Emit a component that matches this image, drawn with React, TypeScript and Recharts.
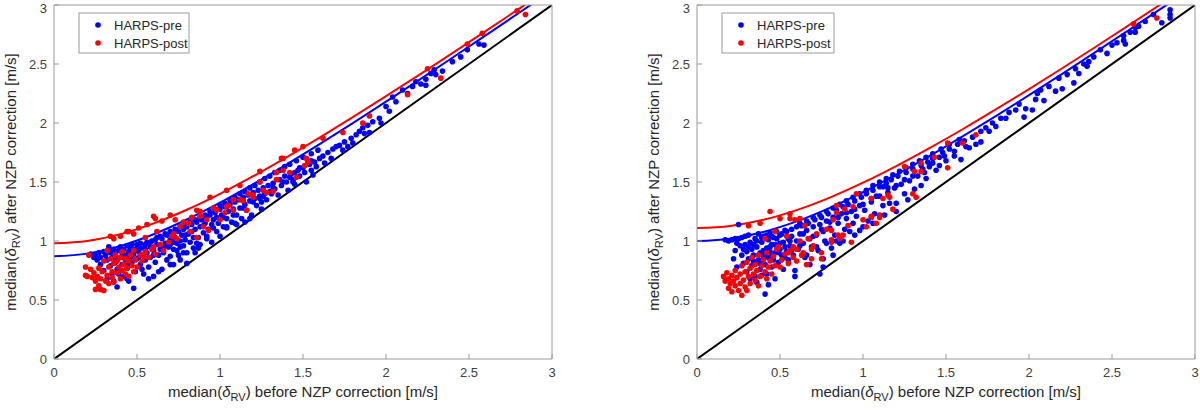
import { ComposedChart, Scatter, Line, XAxis, YAxis } from 'recharts'

type Pt = [number, number]

// tick values shared by both panels
const ticks = [0, 0.5, 1, 1.5, 2, 2.5, 3]

const curveX = [0, 0.2, 0.4, 0.6, 0.8, 1.0, 1.2, 1.4, 1.6, 1.8, 2.0, 2.2, 2.4, 2.6, 2.8, 2.9]
const leftPreCurve = [0.87, 0.893, 0.958, 1.057, 1.182, 1.325, 1.482, 1.648, 1.821, 1.999, 2.181, 2.366, 2.553, 2.742, 2.932, 3.028]
const leftPostCurve = [0.98, 1.0, 1.058, 1.149, 1.265, 1.4, 1.549, 1.709, 1.876, 2.049, 2.227, 2.408, 2.592, 2.779, 2.967, 3.061]
const rightPreCurve = [1.0, 1.02, 1.077, 1.166, 1.281, 1.414, 1.562, 1.72, 1.887, 2.059, 2.236, 2.417, 2.6, 2.786, 2.973, 3.068]
const rightPostCurve = [1.11, 1.128, 1.18, 1.262, 1.368, 1.494, 1.635, 1.787, 1.947, 2.115, 2.287, 2.464, 2.644, 2.827, 3.012, 3.105]
const diagonal: Pt[] = [[0, 0], [3, 3]]

const leftPre: Pt[] = [
  [0.22,0.89],[0.25,0.88],[0.27,0.90],[0.28,0.86],[0.30,0.91],[0.31,0.88],[0.32,0.84],[0.33,0.92],[0.34,0.79],[0.34,0.90],
  [0.35,0.86],[0.35,0.72],[0.30,0.75],[0.32,0.68],[0.28,0.80],[0.26,0.84],[0.24,0.86],[0.33,0.95],
  [0.36,0.93],[0.37,0.89],[0.37,0.82],[0.38,0.61],[0.38,0.76],[0.39,0.92],[0.40,0.86],[0.40,0.95],[0.41,0.80],[0.41,0.90],
  [0.42,0.70],[0.42,0.93],[0.43,0.88],[0.43,0.84],[0.44,0.96],[0.44,0.77],[0.45,0.91],[0.45,0.66],[0.46,0.86],[0.46,0.94],
  [0.47,0.82],[0.47,0.97],[0.48,0.60],[0.48,0.89],[0.49,0.74],[0.49,0.93],[0.50,0.85],[0.50,0.97],[0.39,0.72],[0.44,0.68],[0.36,0.66],
  [0.51,0.91],[0.52,0.80],[0.52,0.98],[0.53,0.88],[0.54,0.94],[0.54,0.72],[0.55,0.84],[0.56,0.99],[0.56,0.90],[0.57,0.78],
  [0.58,0.95],[0.58,0.86],[0.59,1.00],[0.60,0.92],[0.60,0.70],[0.61,0.82],[0.62,0.97],[0.62,1.03],[0.63,0.88],[0.64,0.93],
  [0.65,1.02],[0.65,0.76],[0.66,0.90],[0.67,0.98],[0.68,1.05],[0.68,0.84],[0.69,0.95],[0.70,1.01],[0.70,0.80],[0.53,0.76],[0.57,0.68],[0.63,0.74],
  [0.71,1.06],[0.72,0.93],[0.72,0.80],[0.73,1.03],[0.74,0.98],[0.75,1.08],[0.75,0.88],[0.76,0.84],[0.77,1.05],[0.78,1.10],
  [0.78,0.96],[0.79,1.01],[0.80,1.12],[0.80,0.90],[0.81,1.06],[0.82,0.99],[0.83,1.14],[0.83,1.08],[0.84,0.94],[0.85,0.90],
  [0.85,1.10],[0.86,1.16],[0.87,1.03],[0.88,1.12],[0.88,0.97],[0.89,1.18],[0.90,1.07],[0.76,1.00],[0.74,0.92],
  [0.91,1.15],[0.92,1.20],[0.92,1.02],[0.93,1.10],[0.94,1.22],[0.95,1.14],[0.95,0.99],[0.96,1.18],[0.97,1.24],[0.98,1.08],
  [0.98,1.20],[0.99,1.15],[1.00,1.27],[1.00,1.04],[1.01,1.22],[1.02,1.12],[1.03,1.29],[1.04,1.11],[1.04,1.19],[1.05,1.25],
  [1.06,1.31],[1.07,1.16],[1.08,1.27],[1.09,1.33],[1.10,1.22],[1.10,1.14],
  [1.11,1.35],[1.12,1.28],[1.13,1.19],[1.14,1.37],[1.15,1.31],[1.16,1.26],[1.17,1.39],[1.18,1.34],[1.19,1.22],[1.20,1.41],
  [1.21,1.36],[1.22,1.30],[1.23,1.43],[1.24,1.38],[1.25,1.27],[1.26,1.45],[1.27,1.40],[1.28,1.35],[1.29,1.47],[1.30,1.42],[1.15,1.16],[1.25,1.33],
  [1.32,1.49],[1.33,1.44],[1.35,1.39],[1.36,1.52],[1.37,1.47],[1.39,1.55],[1.40,1.50],[1.41,1.43],[1.43,1.57],[1.44,1.52],
  [1.45,1.48],[1.47,1.60],[1.48,1.55],[1.50,1.62],[1.51,1.58],[1.52,1.50],[1.54,1.65],[1.55,1.60],[1.57,1.67],[1.58,1.63],
  [1.60,1.70],[1.45,1.58],[1.53,1.66],
  [0.70,0.97],[0.76,0.95],[0.78,0.90],[0.86,0.98],[0.87,0.94],[0.70,0.87],[0.80,0.81],[0.92,1.04],[1.04,1.12],[1.09,1.15],
  [1.18,1.19],[1.24,1.36],[1.31,1.40],[1.44,1.50],[1.56,1.56],
  [0.52,0.94],[0.55,0.97],[0.58,0.99],[0.61,1.01],[0.64,1.04],[0.67,1.06],[0.70,1.08],[0.73,1.10],[0.76,1.12],[0.79,1.14],
  [0.82,1.16],[0.85,1.18],[0.88,1.20],[0.91,1.22],[0.94,1.25],[0.97,1.27],[1.00,1.30],[1.03,1.32],[1.06,1.35],[1.09,1.37],
  [1.12,1.40],[1.15,1.42],[1.18,1.45],[1.21,1.47],[1.24,1.50],[1.27,1.53],[1.30,1.55],[1.33,1.58],[1.36,1.60],[1.39,1.63],
  [1.42,1.65],[1.46,1.68],[1.50,1.71],[1.55,1.74],[1.59,1.77],
  [0.60,0.88],[0.66,0.94],[0.72,0.99],[0.79,1.05],[0.84,1.03],[0.90,1.13],[0.96,1.11],[1.02,1.20],[1.08,1.22],[1.14,1.28],
  [1.20,1.33],[1.26,1.38],[1.32,1.45],[1.38,1.50],[1.42,1.54],[1.48,1.62],[1.55,1.68],[0.47,0.88],[0.42,0.86],[0.38,0.84],
  [0.45,0.80],[0.51,0.86],[0.55,0.93],
  [1.62,1.72],[1.63,1.66],[1.65,1.75],[1.67,1.70],[1.68,1.78],[1.70,1.80],[1.72,1.81],[1.74,1.77],[1.75,1.84],[1.77,1.80],
  [1.79,1.87],[1.80,1.83],[1.82,1.90],[1.84,1.93],[1.86,1.96],[1.87,1.91],[1.89,1.98],[1.90,1.92],[1.92,2.01],[1.96,2.04],[1.97,2.00],
  [2.00,2.14],[2.02,2.10],[2.04,2.22],[2.06,2.18],[2.10,2.28],[2.13,2.25],[2.16,2.31],[2.18,2.35],[2.21,2.33],[2.24,2.37],
  [2.24,2.32],[2.27,2.42],[2.29,2.45],[2.30,2.41],[2.34,2.44],[2.40,2.52],[2.45,2.56],[2.49,2.62],[2.56,2.67],[2.59,2.66],
]

const leftPost: Pt[] = [
  [0.19,0.71],[0.19,0.78],[0.20,0.70],[0.21,0.88],[0.22,0.76],[0.23,0.69],[0.24,0.73],[0.25,0.59],[0.25,0.66],[0.26,0.70],
  [0.27,0.62],[0.27,0.77],[0.28,0.59],[0.28,0.68],[0.29,0.74],[0.30,0.58],[0.30,0.83],[0.31,0.66],[0.32,0.71],[0.32,0.92],
  [0.33,0.64],[0.33,0.78],[0.34,0.85],[0.35,0.69],[0.35,0.74],[0.36,0.81],[0.36,0.65],[0.37,0.88],[0.38,0.73],[0.38,0.83],
  [0.39,0.78],[0.40,0.68],[0.40,0.86],[0.41,0.75],[0.41,0.91],[0.42,0.80],[0.43,0.72],[0.43,0.85],[0.44,0.77],[0.45,0.83],
  [0.45,0.70],[0.46,0.88],[0.47,0.79],[0.48,0.74],[0.48,0.92],[0.49,0.84],[0.50,0.78],[0.52,0.88],[0.53,0.83],[0.55,0.91],
  [0.57,0.86],[0.59,0.93],[0.61,0.89],[0.64,0.97],[0.66,0.92],[0.69,0.99],
  [0.34,1.04],[0.36,1.02],[0.40,1.04],[0.45,1.08],[0.48,1.06],[0.51,1.11],[0.56,1.14],[0.61,1.19],[0.65,1.17],[0.70,1.22],
  [0.73,1.18],[0.78,1.16],[0.62,1.08],[0.55,1.03],[0.71,1.04],[0.74,1.02],
  [0.82,1.08],[0.86,1.03],[0.90,1.12],[0.93,1.09],[0.96,1.28],[1.00,1.18],[1.03,1.24],[1.05,1.30],[1.08,1.26],[1.12,1.47],
  [1.14,1.34],[1.17,1.40],[1.20,1.37],[1.24,1.50],[1.28,1.41],[1.32,1.42],[1.34,1.58],[1.37,1.70],[1.42,1.58],[1.45,1.77],
  [1.50,1.80],[1.51,1.64],[1.53,1.67],[0.83,1.20],[0.88,1.25],
  [0.44,1.08],[0.60,1.21],[0.86,1.26],[0.94,1.37],[1.04,1.43],[1.24,1.59],[1.38,1.70],
  [0.88,1.21],[0.92,1.18],[0.98,1.26],[1.04,1.29],[1.08,1.35],[1.12,1.35],[1.16,1.26],[1.20,1.39],[1.26,1.43],[1.34,1.52],
  [1.38,1.60],[1.46,1.54],[1.52,1.70],[0.72,1.06],[0.76,1.12],[0.81,1.15],[0.60,0.95],[0.54,0.87],
  [1.62,1.87],[1.74,1.92],[1.86,2.00],[1.90,2.06],[2.13,2.24],[2.25,2.46],[2.33,2.38],[2.49,2.67],[2.58,2.76],[2.79,2.95],[2.84,2.92],
]

const rightPre: Pt[] = [
  [0.17,1.01],[0.19,1.00],[0.21,1.01],[0.23,1.02],[0.25,1.02],[0.27,1.03],[0.29,1.04],[0.31,1.05],[0.25,1.14],
  [0.22,0.85],[0.23,0.92],[0.24,0.78],[0.26,0.96],[0.27,0.88],[0.28,0.81],[0.29,0.97],[0.30,0.91],[0.30,0.74],[0.31,0.85],
  [0.32,0.99],[0.33,0.93],[0.33,0.79],[0.34,0.88],[0.35,1.02],[0.35,0.70],[0.36,0.95],[0.37,0.84],[0.37,1.06],[0.38,0.90],
  [0.38,0.76],[0.39,0.99],[0.40,0.87],[0.40,1.04],[0.41,0.55],[0.41,0.80],[0.42,0.94],[0.42,0.72],[0.43,1.01],[0.43,0.86],
  [0.44,0.91],[0.44,1.07],[0.45,0.78],[0.45,0.97],[0.46,0.84],[0.46,1.03],[0.47,0.90],[0.47,0.68],[0.48,0.96],[0.48,1.08],
  [0.49,0.82],[0.50,0.93],[0.50,1.05],[0.51,0.88],[0.52,0.99],[0.52,0.76],[0.53,1.09],[0.54,0.91],[0.55,0.84],[0.55,1.02],
  [0.56,0.96],[0.57,1.10],[0.58,0.88],[0.59,0.75],[0.59,0.70],[0.60,1.00],[0.60,1.12],[0.36,0.65],[0.39,0.71],[0.43,0.63],[0.32,0.68],
  [0.24,0.98],[0.28,0.93],[0.31,0.95],[0.34,0.97],[0.36,1.00],[0.39,1.03],[0.42,1.05],[0.45,1.04],[0.48,1.02],[0.51,1.06],
  [0.54,1.08],[0.57,1.04],[0.40,0.92],[0.44,0.95],[0.47,0.97],[0.50,0.98],[0.53,0.95],[0.56,1.00],[0.34,0.83],[0.38,0.81],
  [0.41,0.88],[0.45,0.87],[0.49,0.90],[0.53,0.86],[0.57,0.92],[0.62,0.96],
  [0.61,0.93],[0.62,1.06],[0.63,1.13],[0.64,0.98],[0.65,0.86],[0.66,1.09],[0.67,1.15],[0.68,0.80],[0.68,1.02],[0.69,0.95],
  [0.70,1.12],[0.71,1.18],[0.72,1.05],[0.73,0.92],[0.74,1.14],[0.75,1.20],[0.76,0.85],[0.76,1.08],[0.77,1.00],[0.78,1.17],
  [0.79,1.23],[0.80,1.11],[0.81,0.94],[0.82,1.20],[0.83,1.05],[0.84,1.26],[0.85,1.15],[0.86,0.98],[0.87,1.23],[0.88,1.29],
  [0.89,1.10],[0.90,1.19],[0.91,1.31],[0.92,1.08],[0.93,1.25],[0.94,1.15],[0.95,1.34],[0.96,1.21],[0.98,1.09],[0.98,1.30],[0.99,1.37],
  [0.62,1.15],[0.66,1.17],[0.70,1.20],[0.74,1.22],[0.78,1.25],[0.82,1.28],[0.86,1.31],[0.90,1.34],[0.94,1.37],[0.98,1.40],
  [1.02,1.43],[1.06,1.47],[1.10,1.50],[1.14,1.53],[1.18,1.56],[1.22,1.59],[1.26,1.62],[1.30,1.65],[1.34,1.68],[1.38,1.71],
  [1.42,1.74],[1.47,1.78],[1.52,1.82],[1.58,1.86],
  [0.64,1.06],[0.70,1.04],[0.75,1.10],[0.80,1.16],[0.85,1.20],[0.90,1.24],[0.95,1.27],[1.00,1.31],[1.05,1.36],[1.10,1.38],
  [1.15,1.45],[1.20,1.47],[1.25,1.52],[1.30,1.55],[1.36,1.61],[1.42,1.66],[1.49,1.72],[1.55,1.72],[1.62,1.80],
  [0.66,0.88],[0.72,0.95],[0.78,0.98],[0.84,1.00],[0.88,1.00],[0.95,1.05],[1.00,1.12],[1.06,1.15],[1.13,1.22],[1.20,1.25],
  [1.27,1.35],[0.82,0.88],[0.76,0.78],[0.74,0.72],
  [1.01,1.26],[1.02,1.40],[1.03,1.17],[1.05,1.33],[1.06,1.43],[1.07,1.23],[1.08,1.38],[1.10,1.46],[1.12,1.46],[1.12,1.30],
  [1.14,1.49],[1.15,1.41],[1.16,1.32],[1.17,1.52],[1.19,1.45],[1.20,1.32],[1.21,1.55],[1.23,1.48],[1.25,1.40],[1.26,1.58],
  [1.28,1.51],[1.30,1.61],[1.31,1.44],[1.33,1.55],[1.35,1.47],[1.35,1.64],[1.37,1.58],[1.38,1.53],[1.39,1.67],
  [1.40,1.63],[1.42,1.70],[1.44,1.60],[1.46,1.71],[1.46,1.64],[1.48,1.75],[1.50,1.68],[1.52,1.78],[1.55,1.76],[1.57,1.82],
  [1.59,1.69],[1.61,1.85],[1.64,1.79],[1.66,1.88],[1.68,1.82],[1.71,1.84],[1.71,1.93],[1.74,1.96],[1.76,1.93],[1.78,2.00],
  [1.80,1.97],[1.83,2.04],[1.86,2.04],[1.88,2.09],[1.92,2.11],[1.94,2.16],[1.97,2.05],[1.98,2.12],
  [2.02,2.11],[2.04,2.20],[2.05,2.25],[2.07,2.28],[2.09,2.19],[2.12,2.31],[2.16,2.27],[2.18,2.38],[2.20,2.29],[2.23,2.41],
  [2.27,2.34],[2.28,2.46],[2.30,2.42],[2.33,2.50],[2.35,2.48],[2.36,2.52],[2.39,2.56],[2.43,2.62],[2.47,2.59],[2.50,2.66],
  [2.53,2.68],[2.57,2.74],[2.57,2.70],[2.58,2.67],[2.61,2.77],[2.64,2.81],[2.64,2.77],[2.66,2.82],[2.70,2.86],[2.75,2.92],
  [2.80,2.85],[2.85,2.96],[2.85,2.92],[2.85,2.89],
]

const rightPost: Pt[] = [
  [0.16,0.70],[0.17,0.66],[0.18,0.73],[0.19,0.60],[0.19,0.68],[0.20,0.64],[0.21,0.71],[0.21,0.57],[0.22,0.66],[0.23,0.75],
  [0.23,0.62],[0.24,0.69],[0.25,0.58],[0.26,0.72],[0.26,0.64],[0.27,0.54],[0.27,0.79],[0.28,0.67],[0.29,0.61],[0.29,0.74],
  [0.30,0.58],[0.30,0.82],[0.31,0.70],[0.32,0.64],[0.32,0.77],[0.33,0.86],[0.34,0.72],[0.35,0.67],[0.35,0.80],[0.36,0.75],
  [0.37,0.62],[0.37,0.88],[0.38,0.70],[0.39,0.79],[0.40,0.84],[0.41,0.74],[0.42,0.68],[0.42,0.90],[0.43,0.78],[0.44,0.83],
  [0.45,0.72],[0.46,0.87],[0.47,0.79],[0.48,0.93],[0.49,0.95],[0.50,0.78],[0.51,0.84],[0.53,0.89],[0.55,0.81],[0.56,0.92],[0.58,0.86],
  [0.60,0.83],[0.63,0.88],[0.66,0.80],[0.69,0.93],
  [0.31,1.13],[0.38,1.15],[0.44,1.25],[0.41,1.02],[0.47,1.08],[0.56,1.23],[0.59,1.18],[0.62,1.00],[0.65,1.13],[0.67,1.02],
  [0.70,0.96],[0.72,1.06],[0.75,0.90],[0.78,1.10],[0.81,0.99],[0.82,1.18],[0.84,1.30],[0.86,1.02],[0.88,1.05],[0.91,1.13],
  [0.93,0.99],[0.96,1.40],[1.00,1.18],[1.02,1.12],[1.05,1.21],[1.05,1.36],[1.08,1.15],[1.10,1.22],[1.12,1.36],[1.15,1.39],
  [1.18,1.27],[1.25,1.63],[1.30,1.40],[1.32,1.37],[1.35,1.59],[1.35,1.66],[1.43,1.71],[1.51,1.83],[1.51,1.62],[1.60,1.83],
  [0.64,0.90],[0.69,0.85],[0.75,0.85],[0.81,1.01],[0.81,1.09],[0.85,1.05],[0.84,1.24],[0.89,1.27],[0.94,1.29],[1.05,1.20],
  [1.10,1.20],[1.16,1.37],[1.31,1.59],[0.54,1.04],[0.50,1.19],[0.56,1.19],[0.62,1.19],[0.55,0.90],[0.58,0.95],[0.60,0.93],
  [1.68,1.90],[2.63,2.84],[2.77,2.89],
]

const BLUE = '#0000ff'
const RED = '#ff0000'
const AXIS = '#9a9a9a'
const TEXT = '#262626'
const FONT = '"Liberation Sans", Arial, sans-serif'

const toXY = (pts: Pt[]) => pts.map(([x, y]) => ({ x, y }))
const curve = (ys: number[]) => curveX.map((x, i) => ({ x, y: ys[i] }))

const dot = (color: string) => (p: any) => <circle cx={p.cx} cy={p.cy} r={2.8} fill={color} />

const PLOT_W = 498
const PLOT_H = 354
const PLOT_TOP = 5

function AxisText({ label }: { label: string }) {
  return (
    <>
      median(<tspan fontStyle="italic">δ</tspan>
      <tspan fontSize={11} dy={4}>RV</tspan>
      <tspan dy={-4}>) {label} NZP correction [m/s]</tspan>
    </>
  )
}

interface PanelProps {
  pre: Pt[]
  post: Pt[]
  preCurve: number[]
  postCurve: number[]
  plotLeft: number
  legendLeft: number
  legendWidth: number
}

function Panel({ pre, post, preCurve, postCurve, plotLeft, legendLeft, legendWidth }: PanelProps) {
  const tickStyle = { fill: '#404040', fontSize: 13, fontFamily: FONT }
  const cx = plotLeft + PLOT_W / 2
  const cy = PLOT_TOP + PLOT_H / 2
  // each axis takes 1px of the margin so that it gets drawn
  const margin = {
    top: PLOT_TOP - 1,
    left: plotLeft - 1,
    right: 600 - plotLeft - PLOT_W - 1,
    bottom: 410 - PLOT_TOP - PLOT_H - 1,
  }
  return (
    <div style={{ position: 'relative', width: 600, height: 410 }}>
      <ComposedChart width={600} height={410} margin={margin}>
        <XAxis
          xAxisId={0} type="number" dataKey="x" domain={[0, 3]} ticks={ticks} allowDataOverflow
          height={1} tickSize={-5} tickMargin={14} stroke={AXIS} tick={tickStyle}
        />
        <XAxis
          xAxisId="top" orientation="top" type="number" dataKey="x" domain={[0, 3]} ticks={ticks} allowDataOverflow
          height={1} tickSize={-5} stroke={AXIS} tick={false}
        />
        <YAxis
          yAxisId={0} type="number" dataKey="y" domain={[0, 3]} ticks={ticks} allowDataOverflow
          width={1} tickSize={-5} tickMargin={12} stroke={AXIS} tick={tickStyle}
        />
        <YAxis
          yAxisId="right" orientation="right" type="number" dataKey="y" domain={[0, 3]} ticks={ticks} allowDataOverflow
          width={1} tickSize={-5} stroke={AXIS} tick={false}
        />
        <Scatter data={toXY(pre)} fill={BLUE} shape={dot(BLUE)} isAnimationActive={false} />
        <Scatter data={toXY(post)} fill={RED} shape={dot(RED)} isAnimationActive={false} />
        <Line data={toXY(diagonal)} dataKey="y" type="linear" stroke="#000" strokeWidth={2} dot={false} isAnimationActive={false} />
        <Line data={curve(preCurve)} dataKey="y" type="monotone" stroke={BLUE} strokeWidth={2} dot={false} isAnimationActive={false} />
        <Line data={curve(postCurve)} dataKey="y" type="monotone" stroke={RED} strokeWidth={2} dot={false} isAnimationActive={false} />
      </ComposedChart>

      {/* axis titles and legend */}
      <svg width={600} height={410} style={{ position: 'absolute', left: 0, top: 0, pointerEvents: 'none' }}>
        <text x={cx} y={397} textAnchor="middle" fontSize={15} fontFamily={FONT} fill={TEXT}>
          <AxisText label="before" />
        </text>
        <text transform={`translate(${plotLeft - 38},${cy}) rotate(-90)`} textAnchor="middle" fontSize={15} fontFamily={FONT} fill={TEXT}>
          <AxisText label="after" />
        </text>
        <rect x={legendLeft} y={13} width={legendWidth} height={40} fill="#fff" stroke={AXIS} />
        <circle cx={legendLeft + 19} cy={25} r={2.8} fill={BLUE} />
        <circle cx={legendLeft + 19} cy={43} r={2.8} fill={RED} />
        <text x={legendLeft + 35} y={30} fontSize={13} fontFamily={FONT} fill={TEXT}>HARPS-pre</text>
        <text x={legendLeft + 35} y={48} fontSize={13} fontFamily={FONT} fill={TEXT}>HARPS-post</text>
      </svg>
    </div>
  )
}

export default function App() {
  return (
    <div style={{ position: 'absolute', left: 0, top: 0, width: 1200, height: 410, display: 'flex', background: '#fff' }}>
      <Panel pre={leftPre} post={leftPost} preCurve={leftPreCurve} postCurve={leftPostCurve} plotLeft={54} legendLeft={79} legendWidth={110} />
      <Panel pre={rightPre} post={rightPost} preCurve={rightPreCurve} postCurve={rightPostCurve} plotLeft={97} legendLeft={122} legendWidth={112} />
    </div>
  )
}
